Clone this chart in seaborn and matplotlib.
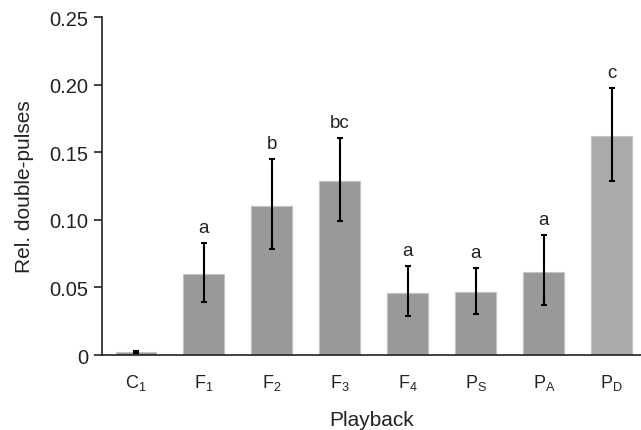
import numpy as np
import matplotlib
matplotlib.use("Agg")
import matplotlib.pyplot as plt
import seaborn as sns
from matplotlib.ticker import FuncFormatter

# Data
playback = ["C_1", "F_1", "F_2", "F_3", "F_4", "P_S", "P_A", "P_D"]
rel_double = [0.002, 0.060, 0.110, 0.1285, 0.046, 0.0465, 0.0612, 0.162]
err_low = [0.0012, 0.0395, 0.0785, 0.099, 0.0285, 0.0305, 0.037, 0.129]
err_high = [0.0028, 0.083, 0.145, 0.1605, 0.066, 0.0645, 0.089, 0.1975]
letters = ["", "a", "b", "bc", "a", "a", "a", "c"]
bar_colors = ["#999999"] * 7 + ["#aaaaaa"]

sns.set_style("white")
plt.rcParams['font.family'] = ['Liberation Sans', 'DejaVu Sans']
plt.rcParams['mathtext.fontset'] = 'custom'
plt.rcParams['mathtext.rm'] = 'Liberation Sans'

fig = plt.figure(figsize=(6.41, 4.31), dpi=100)
ax = fig.add_axes([0.159, 0.174, 0.841, 0.784])

labels = [r"$\mathregular{%s}$" % p for p in playback]
sns.barplot(x=labels, y=rel_double, hue=labels, palette=bar_colors,
            legend=False, width=0.6, edgecolor="#c4c4c4", linewidth=0.8,
            saturation=1, ax=ax)

# asymmetric error bars at the bar centres
centers = [p.get_x() + p.get_width() / 2 for p in ax.patches[:len(playback)]]
vals = np.array(rel_double)
yerr = [vals - np.array(err_low), np.array(err_high) - vals]
ax.errorbar(centers, vals, yerr=yerr, fmt="none", ecolor="black",
            elinewidth=1.5, capsize=2.5, capthick=1.5)

for cx, top, lab in zip(centers, err_high, letters):
    ax.text(cx, top + 0.005, lab, ha="center", va="bottom",
            fontsize=13.5, color="#222222")

ax.set_ylim(0, 0.25)
ax.set_xlim(-0.5, len(playback) - 0.57)
ax.set_yticks([0, 0.05, 0.10, 0.15, 0.20, 0.25])
ax.yaxis.set_major_formatter(FuncFormatter(lambda v, p: "0" if v == 0 else "%.2f" % v))

ax.set_xticks(np.arange(len(playback)))
ax.set_xticks(np.arange(len(playback)) - 0.5, minor=True)
ax.tick_params(axis="x", which="major", length=0, labelsize=13, pad=12, colors="#222222")
ax.tick_params(axis="x", which="minor", length=6, width=1.2, direction="out", color="#222222")
ax.tick_params(axis="y", length=6, width=1.2, direction="out", labelsize=14.5,
               left=True, colors="#222222")

ax.set_xlabel("Playback", fontsize=15, color="#222222", labelpad=13)
ax.set_ylabel("Rel. double-pulses", fontsize=15, color="#222222", labelpad=11)

sns.despine(ax=ax)
for s in ["left", "bottom"]:
    ax.spines[s].set_color("#222222")
    ax.spines[s].set_linewidth(1.2)

fig.savefig("out.png", dpi=100)
